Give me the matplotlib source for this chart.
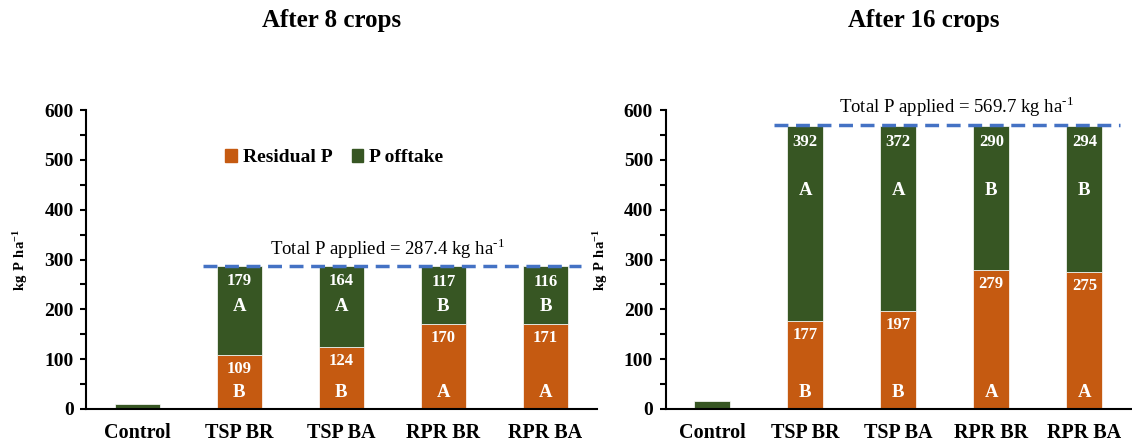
import matplotlib.pyplot as plt
from matplotlib.patches import Patch

plt.rcParams["font.family"] = ["Liberation Serif", "DejaVu Serif"]
plt.rcParams["mathtext.fontset"] = "custom"
plt.rcParams["mathtext.rm"] = "Liberation Serif"
plt.rcParams["mathtext.bf"] = "Liberation Serif:bold"

# --- data ---
treatments = ["Control", "TSP BR", "TSP BA", "RPR BR", "RPR BA"]

residual_8 = [0, 109, 124, 170, 171]
offtake_8 = [10, 179, 164, 117, 116]
resid_letters_8 = ["", "B", "B", "A", "A"]
off_letters_8 = ["", "A", "A", "B", "B"]
total_8 = 287.4

residual_16 = [0, 177, 197, 279, 275]
offtake_16 = [16, 392, 372, 290, 294]
resid_letters_16 = ["", "B", "B", "A", "A"]
off_letters_16 = ["", "A", "A", "B", "B"]
total_16 = 569.7

ORANGE = "#C55A11"
GREEN = "#375623"
BLUE = "#4472C4"

fig = plt.figure(figsize=(11.32, 4.46), dpi=100)
ax1 = fig.add_axes([0.076, 0.083, 0.451, 0.670])
ax2 = fig.add_axes([0.588, 0.083, 0.411, 0.670])

panels = [
    (ax1, residual_8, offtake_8, resid_letters_8, off_letters_8, total_8,
     0.44, (0.65, 4.35), (2.45, 322), 82),
    (ax2, residual_16, offtake_16, resid_letters_16, off_letters_16, total_16,
     0.39, (0.66, 4.38), (2.62, 608), 130),
]

for ax, resid, off, rl, ol, total, width, span, tpos, letter_off in panels:
    x = range(len(treatments))
    ax.bar(x, resid, width, color=ORANGE, edgecolor="white", linewidth=0.5,
           label="Residual P")
    ax.bar(x, off, width, bottom=resid, color=GREEN, edgecolor="white",
           linewidth=0.5, label="P offtake")

    for i in x:
        if i == 0:
            continue
        top = resid[i] + off[i]
        ax.text(i, resid[i] - 28, str(resid[i]), color="white", fontsize=12,
                fontweight="bold", ha="center", va="center")
        ax.text(i, 34, rl[i], color="white", fontsize=13.5,
                fontweight="bold", ha="center", va="center")
        ax.text(i, top - 32, str(off[i]), color="white", fontsize=12,
                fontweight="bold", ha="center", va="center")
        ax.text(i, top - letter_off, ol[i], color="white", fontsize=13.5,
                fontweight="bold", ha="center", va="center")

    ax.plot(span, [total, total], color=BLUE, linestyle=(0, (4, 2.2)), lw=2.5)
    ax.text(tpos[0], tpos[1], "Total P applied = %.1f kg ha$^{\\text{-}1}$" % total,
            fontsize=13.5, ha="center", va="center")

    ax.set_xlim(-0.5, 4.5)
    ax.set_ylim(0, 600)
    ax.set_yticks(range(0, 601, 100))
    ax.set_yticks(range(50, 600, 100), minor=True)
    ax.set_xticks(list(x))
    ax.set_xticklabels(treatments, fontsize=14.5, fontweight="bold")
    ax.tick_params(axis="x", length=0, pad=10)
    ax.tick_params(axis="y", which="both", length=4, width=1.5, labelsize=14,
                   pad=5)
    for lbl in ax.get_yticklabels():
        lbl.set_fontweight("bold")
    ax.spines["top"].set_visible(False)
    ax.spines["right"].set_visible(False)
    ax.spines["left"].set_linewidth(1.5)
    ax.spines["bottom"].set_linewidth(1.5)
    ax.set_ylabel(r"$\mathbf{kg\ P\ ha^{-1}}$", fontsize=10.5, labelpad=10)

handles = [Patch(color=ORANGE, label="Residual P"),
           Patch(color=GREEN, label="P offtake")]
ax1.legend(handles=handles, loc="center", bbox_to_anchor=(0.486, 0.84),
           ncol=2, frameon=False, handlelength=0.6, handleheight=0.6,
           handletextpad=0.3, columnspacing=1.0,
           prop={"size": 14, "weight": "bold"})

fig.text(0.293, 0.955, "After 8 crops", fontsize=18, fontweight="bold",
         ha="center", va="center")
fig.text(0.816, 0.955, "After 16 crops", fontsize=18, fontweight="bold",
         ha="center", va="center")

fig.savefig("out.png", dpi=100)
